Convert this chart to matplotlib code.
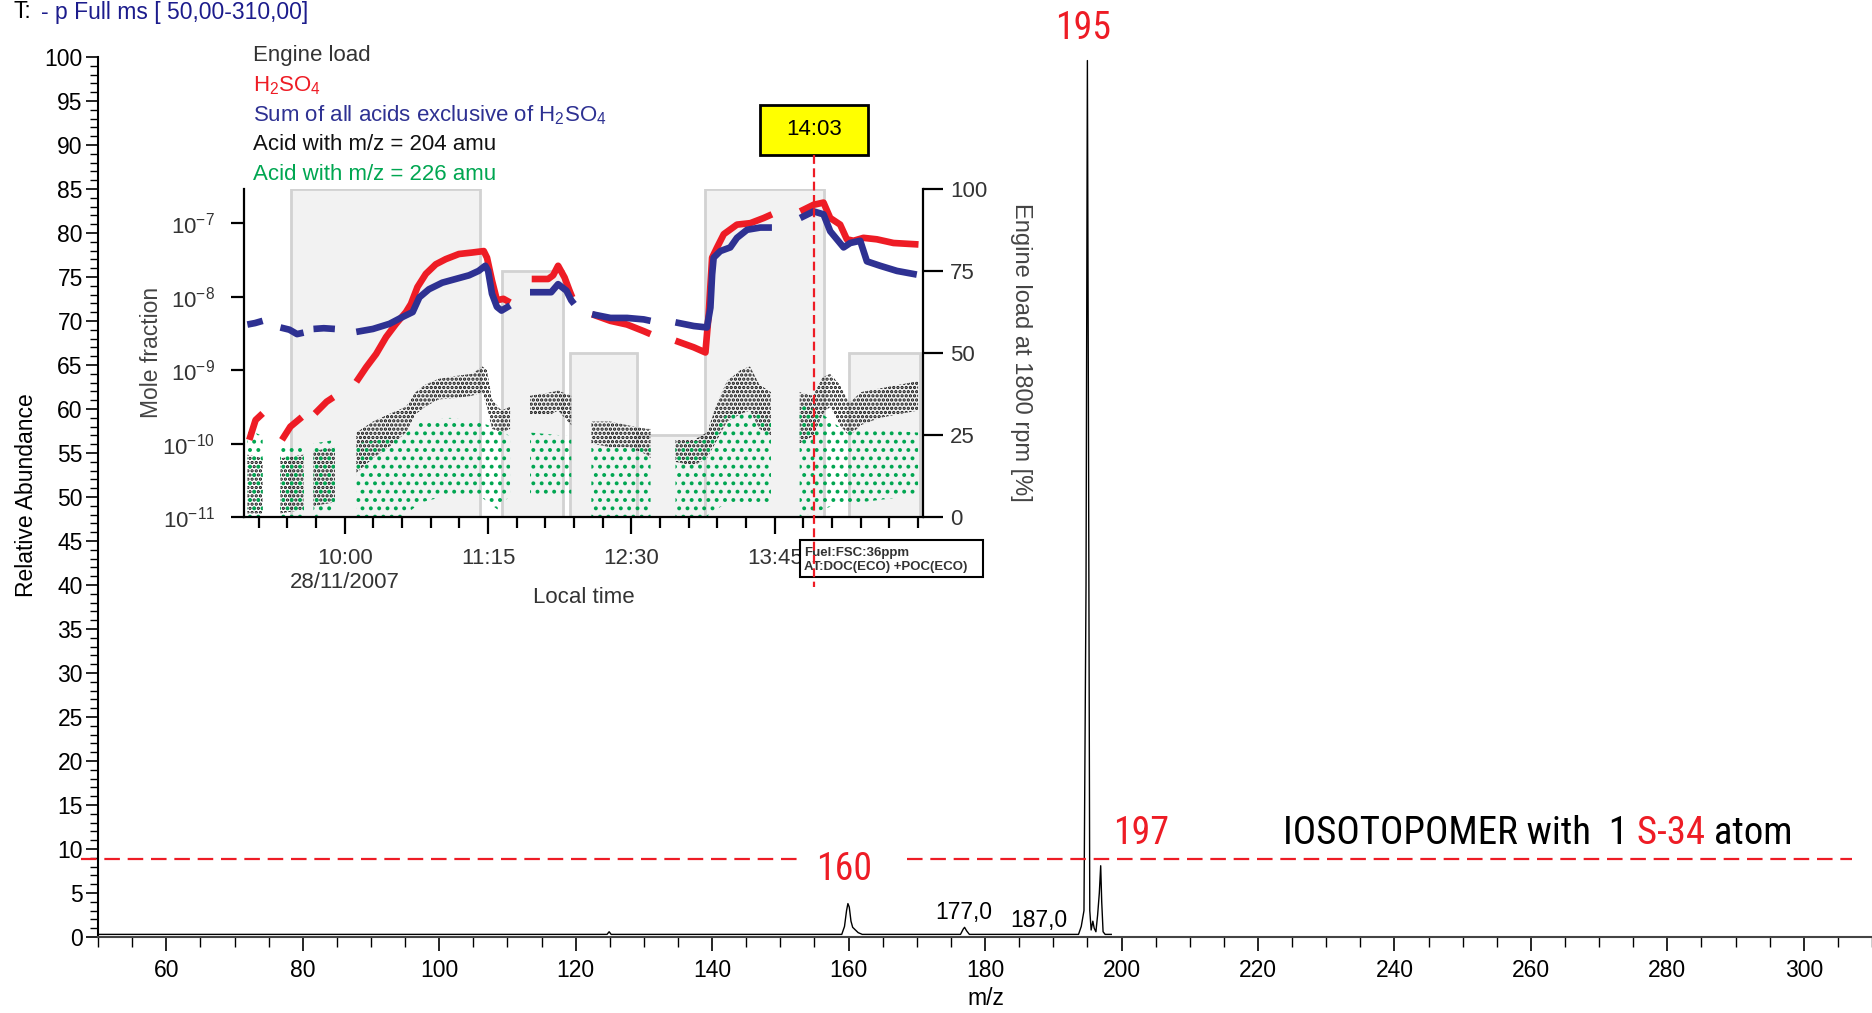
import numpy as np
import matplotlib.pyplot as plt
import matplotlib.transforms as mtransforms
from matplotlib import font_manager
from matplotlib.patches import Rectangle
from matplotlib.lines import Line2D
from matplotlib.ticker import MultipleLocator, NullLocator

plt.rcParams['font.family'] = ['Liberation Sans', 'DejaVu Sans']
plt.rcParams['mathtext.fontset'] = 'custom'
plt.rcParams['mathtext.rm'] = 'Liberation Sans'
plt.rcParams['mathtext.default'] = 'regular'
plt.rcParams['hatch.linewidth'] = 1.6
nan = np.nan

# narrow font for the big annotations, if one is installed
installed = {f.name for f in font_manager.fontManager.ttflist}
narrow_pref = ['Liberation Sans Narrow', 'Arial Narrow', 'Roboto Condensed', 'Open Sans Condensed',
               'Noto Sans Condensed', 'DejaVu Sans Condensed']
narrow_found = [n for n in narrow_pref if n in installed]
narrow_found += sorted(n for n in installed if ('narrow' in n.lower() or 'condensed' in n.lower())
                       and n not in narrow_found)
NARROW = {'family': narrow_found[:1] + ['Liberation Sans', 'DejaVu Sans']}
if not narrow_found:
    cond = [f.name for f in font_manager.fontManager.ttflist if str(f.stretch).lower() == 'condensed']
    if cond:
        NARROW = {'family': [cond[0], 'DejaVu Sans'], 'stretch': 'condensed'}

RED = '#ee1c25'
BLUE = '#2e3192'
GREEN = '#00a651'
BLACK = '#111111'

# ---- mass spectrum (m/z, relative abundance)
mz = [50.2, 124.6, 124.9, 125.2,
      159.0, 159.4, 159.7, 159.9, 160.1, 160.35, 160.6, 161.0, 161.4, 162.0,
      176.4, 176.8, 177.0, 177.3, 177.7,
      193.7, 194.1, 194.5, 194.8, 195.0, 195.15, 195.35, 195.55, 195.8, 196.0,
      196.25, 196.5, 196.75, 196.95, 197.1, 197.3, 197.6, 198.5]
abund = [0.3, 0.3, 0.6, 0.3,
         0.3, 1.2, 3.0, 3.8, 3.4, 1.8, 1.1, 0.8, 0.5, 0.3,
         0.3, 0.9, 1.1, 0.7, 0.3,
         0.3, 1.2, 3.0, 40.0, 99.6, 60.0, 3.0, 0.8, 1.8, 1.0,
         0.6, 2.5, 5.0, 8.1, 4.0, 0.6, 0.3, 0.3]

red_labels = ['195', '160', '197']
red_label_x = [194.3, 159.4, 202.9]
red_label_y = [103.2, 7.7, 11.8]
black_labels = ['177,0', '187,0']
black_label_x = [176.9, 187.9]
black_label_y = [2.8, 1.9]

iso_level = 8.9
iso_segments = [(47.5, 152.5), (168.5, 307)]

# ---- inset: minutes after 10:00 and log10 mole fraction
blue_t = [-51, -47, -43, nan,
          -33.7, -29, -25, -21.6, nan,
          -16.4, -11, -5.2, nan,
          6, 14.7, 23.4, 30, 35.5, 39, 44, 51, 58, 65, 70, 73.5, 75, 77, 79.6, 82, 86.5, nan,
          96.9, 102, 108, 111.6, 116, 118.5, 120, nan,
          129.4, 139, 147.7, 156.4, 160, nan,
          173, 182.6, 189.5, 191.3, 192.2, 193, 196.5, 201.7, 205.2, 210.5, 217.4, 223.5, nan,
          238.3, 245.3, 250.5, 254, 257.5, 261, 264.5, 269.7, 273.2, 280.1, 288.9, 299.3]
blue_v = [-8.38, -8.36, -8.33, nan,
          -8.42, -8.45, -8.51, -8.49, nan,
          -8.44, -8.43, -8.44, nan,
          -8.48, -8.44, -8.37, -8.28, -8.21, -8.01, -7.90, -7.81, -7.76, -7.71, -7.65, -7.58, -7.65,
          -7.96, -8.14, -8.19, -8.12, nan,
          -7.94, -7.94, -7.94, -7.83, -7.92, -8.05, -8.10, nan,
          -8.24, -8.29, -8.29, -8.31, -8.33, nan,
          -8.35, -8.40, -8.42, -8.15, -7.70, -7.47, -7.38, -7.33, -7.20, -7.09, -7.06, -7.06, nan,
          -6.93, -6.84, -6.88, -7.11, -7.22, -7.33, -7.27, -7.24, -7.52, -7.58, -7.65, -7.70]

red_t = [-50, -46.7, -43, nan,
         -32.9, -28.5, -22.5, nan,
         -15.6, -9.5, -6, nan,
         6, 11.2, 16.4, 21.6, 26.8, 32, 34.6, 38, 42.4, 47.6, 52.8, 59.7, 66.6, 72.7, 74.4, 77, 79.6, 83, 86.5, nan,
         97.8, 106.4, 109, 111.6, 115, 117.6, 119, nan,
         129.4, 139, 147.7, 156.4, 160, nan,
         173, 182.6, 188.7, 190.4, 192.2, 194.8, 198.3, 205.2, 212.2, 219.2, 223.5, nan,
         238.3, 245.3, 250.5, 254, 259.2, 262.7, 266.2, 271.4, 278.4, 287.1, 300.2]
red_v = [-9.95, -9.68, -9.59, nan,
         -9.95, -9.77, -9.64, nan,
         -9.59, -9.43, -9.37, nan,
         -9.16, -8.96, -8.78, -8.55, -8.37, -8.21, -8.10, -7.87, -7.69, -7.56, -7.49, -7.42, -7.40, -7.38,
         -7.47, -7.78, -8.05, -8.03, -8.08, nan,
         -7.76, -7.76, -7.71, -7.58, -7.74, -7.92, -8.01, nan,
         -8.24, -8.33, -8.38, -8.47, -8.51, nan,
         -8.60, -8.69, -8.76, -8.24, -7.47, -7.33, -7.15, -7.02, -7.00, -6.93, -6.88, nan,
         -6.84, -6.75, -6.72, -6.93, -7.02, -7.22, -7.24, -7.20, -7.22, -7.27, -7.29]

m204_t = [-51, -43, nan, -33.7, -21.6, nan, -16.4, -5.2, nan,
          6, 14.7, 23, 32, 37, 42, 49, 58, 66.6, 72, 74.4, 77, 82, 86.5, nan,
          96.9, 108, 111.6, 118.5, nan,
          129, 139, 148, 158, 160, nan,
          173, 182.6, 189.5, 194.8, 200, 207, 212, 217, 223, nan,
          238, 245, 250, 254, 259, 264, 270, 280, 290, 300]
m204_lo = [-10.95, -10.95, nan, -10.95, -10.9, nan, -10.85, -10.8, nan,
           -10.4, -10.2, -10.05, -9.85, -9.6, -9.5, -9.4, -9.38, -9.35, -9.3, -9.5, -9.8, -9.85, -9.8, nan,
           -9.6, -9.6, -9.55, -9.75, nan,
           -10.0, -10.05, -10.05, -10.15, -10.2, nan,
           -10.25, -10.3, -10.2, -9.95, -9.7, -9.6, -9.55, -9.8, -9.9, nan,
           -10.0, -9.9, -9.6, -9.5, -9.75, -9.9, -9.75, -9.65, -9.6, -9.55]
m204_hi = [-10.15, -10.2, nan, -10.2, -10.15, nan, -10.1, -10.05, nan,
           -9.85, -9.7, -9.6, -9.5, -9.3, -9.2, -9.12, -9.08, -9.05, -8.95, -9.0, -9.4, -9.55, -9.5, nan,
           -9.35, -9.3, -9.28, -9.35, nan,
           -9.7, -9.7, -9.75, -9.8, -9.8, nan,
           -9.95, -9.95, -9.85, -9.45, -9.15, -9.0, -8.95, -9.2, -9.3, nan,
           -9.3, -9.35, -9.1, -9.05, -9.2, -9.45, -9.3, -9.25, -9.2, -9.15]

m226_t = [-51, -43, nan, -33.7, -21.6, nan, -16.4, -5.2, nan,
          6, 30, 40, 55, 70, 80, 86.5, nan,
          96.9, 118.5, nan,
          129, 160, nan,
          173, 189, 200, 215, 223, nan,
          238, 250, 260, 270, 300]
m226_lo = [-11.0, -11.0, nan, -11.0, -11.0, nan, -11.0, -10.9, nan,
           -11.0, -11.0, -10.8, -10.7, -10.7, -10.9, -10.7, nan,
           -10.7, -10.7, nan,
           -11.0, -11.0, nan,
           -11.0, -11.0, -10.8, -10.8, -10.8, nan,
           -11.0, -10.9, -10.8, -10.8, -10.7]
m226_hi = [-9.8, -9.9, nan, -10.0, -10.0, nan, -10.0, -9.95, nan,
           -10.0, -9.9, -9.7, -9.65, -9.7, -9.8, -9.9, nan,
           -9.85, -9.9, nan,
           -10.0, -10.05, nan,
           -10.0, -9.95, -9.6, -9.55, -9.7, nan,
           -9.45, -9.6, -9.8, -9.8, -9.85]

# engine load steps (minutes after 10:00, percent)
load_start = [-28, 82, 118, 153, 188.5, 264]
load_end = [70.5, 114, 153, 188.5, 251, 301]
load_pct = [100, 75, 50, 25, 100, 50]

time_ticks = [0, 75, 150, 225]
time_labels = ['10:00\n28/11/2007', '11:15', '12:30', '13:45']
log_ticks = [-11, -10, -9, -8, -7]
load_ticks = [0, 25, 50, 75, 100]
mark_label = '14:03'
mark_pos = 245.5   # where the dashed marker sits on the time axis

legend_labels = ['Engine load', 'H$_2$SO$_4$', 'Sum of all acids exclusive of H$_2$SO$_4$',
                 'Acid with m/z = 204 amu', 'Acid with m/z = 226 amu']
legend_colors = ['#333333', RED, BLUE, BLACK, GREEN]

# ---------------------------------------------------------------
fig = plt.figure(figsize=(18.72, 10.13), dpi=100)

ax = fig.add_axes([0.0524, 0.0750, 0.9476, 0.8687])
ax.plot(mz, abund, color='black', lw=1.0, clip_on=False)
for x0, x1 in iso_segments:
    ax.plot([x0, x1], [iso_level, iso_level], color=RED, lw=1.6, dashes=(7, 3.5), clip_on=False)
ax.set_xlim(50, 310)
ax.set_ylim(0, 100)
for s in ['top', 'right']:
    ax.spines[s].set_visible(False)
ax.spines['left'].set_linewidth(1.5)
ax.spines['bottom'].set_linewidth(1.5)
ax.spines['bottom'].set_color('#444444')
ax.xaxis.set_major_locator(MultipleLocator(20))
ax.xaxis.set_minor_locator(MultipleLocator(5))
ax.yaxis.set_major_locator(MultipleLocator(5))
ax.yaxis.set_minor_locator(MultipleLocator(1))
ax.tick_params(axis='x', which='major', length=10, width=1.2, pad=6, labelsize=16.5)
ax.tick_params(axis='x', which='minor', length=7, width=1.0)
ax.tick_params(axis='y', which='major', length=9, width=1.2, pad=2, labelsize=16.5)
ax.tick_params(axis='y', which='minor', length=5.5, width=1.0)

red_texts = []
for s, x, y in zip(red_labels, red_label_x, red_label_y):
    red_texts.append(ax.text(x, y, s, color=RED, fontsize=29, ha='center', va='center',
                             clip_on=False, **NARROW))
for s, x, y in zip(black_labels, black_label_x, black_label_y):
    ax.text(x, y, s, color='black', fontsize=16.5, ha='center', va='center')

t1 = ax.text(223.6, 11.8, 'IOSOTOPOMER with  1', fontsize=29, va='center', **NARROW)
t2 = ax.annotate(' S-34', xy=(1, 0), xycoords=t1, va='bottom', fontsize=29, color=RED, **NARROW)
t3 = ax.annotate(' atom', xy=(1, 0), xycoords=t2, va='bottom', fontsize=29, **NARROW)

fig.text(13 / 1872, 1 - 12 / 1013, 'T:', fontsize=16.5, va='center')
fig.text(41 / 1872, 1 - 12 / 1013, '- p Full ms [ 50,00-310,00]', fontsize=16.5, va='center', color='#1c1c8c')
fig.text(0.0139, 0.5109, 'Relative Abundance', fontsize=16.5, rotation=90, ha='center', va='center')
fig.text(0.5267, 0.0148, 'm/z', fontsize=16.5, ha='center', va='center')

# ---- inset
rect = [0.1301, 0.4896, 0.3629, 0.3242]
xlim_in = (-53, 302.5)

axl = fig.add_axes(rect, zorder=1)
axl.bar(load_start, load_pct, width=np.subtract(load_end, load_start), align='edge',
        color='#f2f2f2', edgecolor='#d2d2d2', lw=2)
axl.set_xlim(*xlim_in)
axl.set_ylim(0, 100)
for s in ['top', 'left', 'bottom']:
    axl.spines[s].set_visible(False)
axl.spines['right'].set_linewidth(1.6)
axl.yaxis.tick_right()
axl.set_yticks(load_ticks)
axl.set_xticks([])
axl.tick_params(axis='y', length=14.5, width=1.6, pad=5, labelsize=16, labelcolor='#333333')

axi = fig.add_axes(rect, zorder=2, facecolor='none')
axi.set_yscale('log')
axi.fill_between(m204_t, 10 ** np.array(m204_lo), 10 ** np.array(m204_hi),
                 facecolor='none', edgecolor=BLACK, hatch='....', lw=0)
axi.fill_between(m226_t, 10 ** np.array(m226_lo), 10 ** np.array(m226_hi),
                 facecolor='none', edgecolor=GREEN, hatch='..', lw=0)
axi.plot(red_t, 10 ** np.array(red_v), color=RED, lw=4.8, solid_capstyle='butt')
axi.plot(blue_t, 10 ** np.array(blue_v), color=BLUE, lw=4.8, solid_capstyle='butt')
axi.set_xlim(*xlim_in)
axi.set_ylim(1e-11, 10 ** -6.53)
for s in ['top', 'right']:
    axi.spines[s].set_visible(False)
axi.spines['left'].set_linewidth(1.6)
axi.spines['bottom'].set_linewidth(1.6)
axi.set_yticks([10.0 ** k for k in log_ticks])
axi.set_yticklabels(['$10^{%d}$' % k for k in log_ticks])
axi.yaxis.set_minor_locator(NullLocator())
axi.set_xticks(time_ticks)
axi.set_xticklabels(time_labels)
axi.xaxis.set_minor_locator(MultipleLocator(15))
axi.tick_params(axis='y', length=9.5, width=1.6, pad=11, labelsize=16, labelcolor='#333333')
axi.tick_params(axis='x', which='major', length=12, width=1.6, pad=10, labelsize=16, labelcolor='#333333')
axi.tick_params(axis='x', which='minor', length=8, width=1.6)

fig.text(0.0810, 0.6525, 'Mole fraction', fontsize=16.5, rotation=90, ha='center', va='center', color='#444444')
fig.text(0.5454, 0.6525, 'Engine load at 1800 rpm [%]', fontsize=17, rotation=270,
         ha='center', va='center', color='#444444')
fig.text(0.3120, 0.4097, 'Local time', fontsize=16, ha='center', va='center', color='#333333')

for i, (lab, col) in enumerate(zip(legend_labels, legend_colors)):
    fig.text(0.1351, 0.945 - i * 0.0292, lab, fontsize=16, color=col, va='center')

# 14:03 marker
bt = mtransforms.blended_transform_factory(axi.transData, fig.transFigure)
fig.add_artist(Rectangle((mark_pos - 28.25, 0.847), 56.5, 0.0494, transform=bt,
                         facecolor='#ffff00', edgecolor='black', lw=2, zorder=5))
fig.text(mark_pos, 0.8717, mark_label, transform=bt, fontsize=16, ha='center', va='center', zorder=6)
fig.add_artist(Line2D([mark_pos, mark_pos], [0.847, 0.4205], transform=bt, color=RED, lw=1.6,
                      dashes=(4, 2), zorder=7))

# fuel box
fig.add_artist(Rectangle((0.4274, 0.4304), 0.0978, 0.0365, transform=fig.transFigure,
                         facecolor='white', edgecolor='black', lw=1.5, zorder=5))
fig.text(0.4295, 0.4541, 'Fuel:FSC:36ppm', fontsize=9.5, fontweight='bold', color='#333333',
         va='center', zorder=6)
fig.text(0.4295, 0.4398, 'AT:DOC(ECO) +POC(ECO)', fontsize=9.5, fontweight='bold', color='#333333',
         va='center', zorder=6)

# fit the big annotations to the widths they take in the reference
fig.canvas.draw()
rend = fig.canvas.get_renderer()
iso_w = t3.get_window_extent(rend).x1 - t1.get_window_extent(rend).x0
k = min(1.0, 511.0 / iso_w)
for t in (t1, t2, t3):
    t.set_fontsize(29 * k)
lab_w = red_texts[0].get_window_extent(rend).width
k2 = min(1.0, 56.0 / lab_w)
for t in red_texts:
    t.set_fontsize(29 * k2)

fig.savefig('out.png', dpi=100)
